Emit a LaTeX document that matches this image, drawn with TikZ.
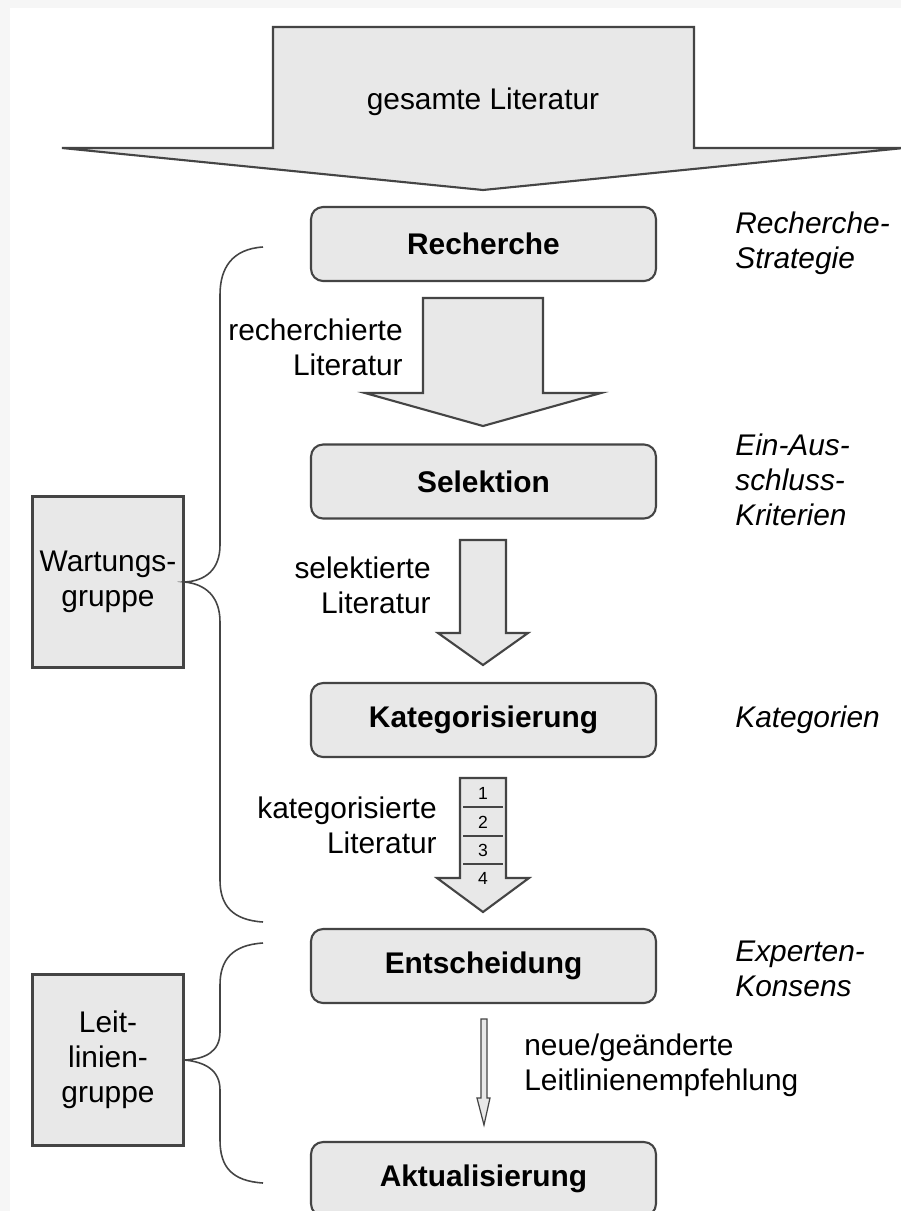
\documentclass[tikz,border=0pt]{standalone}
\usepackage{fontspec}
\setmainfont{Liberation Sans}
\usetikzlibrary{positioning}
\definecolor{boxgray}{HTML}{E8E8E8}
\definecolor{linegray}{HTML}{444444}
\definecolor{framegray}{HTML}{F6F6F6}

\begin{document}
\fontsize{17}{20}\selectfont
\begin{tikzpicture}[x=0.02cm,y=-0.02cm,
  stage/.style={draw=linegray,fill=boxgray,line width=1.2pt,rounded corners=0.24cm,minimum width=6.9cm,minimum height=1.48cm,font=\bfseries},
  group/.style={draw=linegray,fill=boxgray,line width=1.2pt,inner sep=0pt,minimum width=3.02cm,minimum height=3.42cm,align=center},
  blockarrow/.style={draw=linegray,fill=boxgray,line width=1.2pt,line join=miter},
  brace/.style={draw=linegray,line width=0.9pt},
  txt/.style={inner sep=0pt},
  remark/.style={inner sep=0pt,align=left,anchor=west,font=\itshape}]
\useasboundingbox (0,0) rectangle (901,1211);
\fill[framegray] (0,0) rectangle (901,1211);
\fill[white] (10,8) rectangle (901,1211);

\draw[blockarrow] (273,27) -- (694,27) -- (694,148) -- (904,148) -- (483,190) -- (62,148) -- (273,148) -- cycle;
\node[txt] (gesamt) at (483,102) {gesamte Literatur};

\node[stage] (recherche) at (483.5,244) {Recherche};
\node[stage] (selektion) at (483.5,481.5) {Selektion};
\node[stage] (kategorisierung) at (483.5,720) {Kategorisierung};
\node[stage] (entscheidung) at (483.5,966) {Entscheidung};
\node[stage] (aktualisierung) at (483.5,1179) {Aktualisierung};

\draw[blockarrow] (423,298) -- (543,298) -- (543,393) -- (601,393) -- (483,426) -- (365,393) -- (423,393) -- cycle;
\draw[blockarrow] (460,540) -- (506,540) -- (506,633) -- (528,633) -- (483,665) -- (438,633) -- (460,633) -- cycle;
\draw[blockarrow] (460,778) -- (506,778) -- (506,878) -- (529,878) -- (483,912) -- (437,878) -- (460,878) -- cycle;
\foreach \y in {807,836,864}
  \draw[linegray,line width=1.2pt] (463,\y) -- (503,\y);
\foreach \n/\y in {1/793,2/822,3/850,4/878}
  \node[txt,font=\fontsize{10}{12}\selectfont] (nr\n) at (483,\y) {\n};
\draw[blockarrow,line width=0.7pt] (481,1019) -- (487,1019) -- (487,1098) -- (490,1098) -- (484,1125) -- (477,1098) -- (481,1098) -- cycle;

\node[txt,align=right,anchor=east] (recherchiert) at (403,347) {recherchierte\\Literatur};
\node[txt,align=right,anchor=east] (selektiert) at (431,585) {selektierte\\Literatur};
\node[txt,align=right,anchor=east] (kategorisiert) at (437,825) {kategorisierte\\Literatur};
\node[txt,align=left,anchor=west] (empfehlung) at (524,1065) {neue/geänderte\\Leitlinienempfehlung};

\node[remark] (strategie) at (735,243) {Recherche-\\Strategie};
\node[remark] (kriterien) at (735,480) {Ein-Aus-\\schluss-\\Kriterien};
\node[remark] (kategorien) at (735,720) {Kategorien};
\node[remark] (konsens) at (735,969) {Experten-\\Konsens};

\node[group] (wartung) at (108,582) {Wartungs-\\gruppe};
\node[group] (leitlinie) at (108,1060) {Leit-\\linien-\\gruppe};

\coordinate (wtop) at (263,247);
\coordinate (wbot) at (263,922);
\coordinate (ltop) at (263,943);
\coordinate (lbot) at (263,1183);
\draw[brace] (wtop) .. controls (232,249) and (220,268) .. (220,295) -- (220,545) .. controls (220,570) and (205,581) .. (wartung.east) .. controls (205,584) and (220,596) .. (220,622) -- (220,880) .. controls (220,905) and (232,920) .. (wbot);
\draw[brace] (ltop) .. controls (232,945) and (220,960) .. (220,985) -- (220,1032) .. controls (220,1052) and (205,1059) .. (leitlinie.east) .. controls (205,1062) and (220,1070) .. (220,1090) -- (220,1140) .. controls (220,1167) and (232,1181) .. (lbot);
\end{tikzpicture}
\end{document}
